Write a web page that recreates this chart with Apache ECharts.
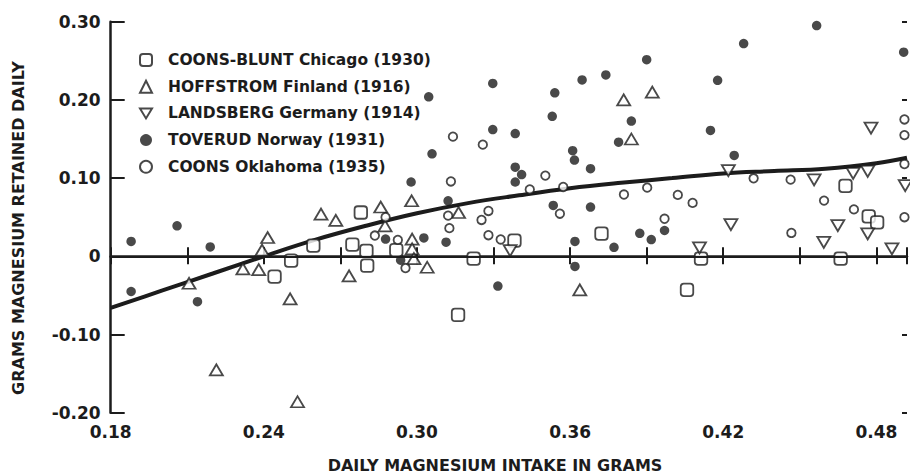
<!DOCTYPE html>
<html>
<head>
<meta charset="utf-8">
<script src="https://cdn.jsdelivr.net/npm/echarts@6/dist/echarts.min.js"></script>
<style>
  html, body { margin: 0; padding: 0; background: #ffffff; }
  #chart { width: 910px; height: 474px; }
</style>
</head>
<body>
<div id="chart"></div>
<script>
// Daily magnesium intake (g) vs. magnesium retained daily (g), by study.
const coonsBluntChicago = [
  [0.2442, -0.026], [0.2507, -0.0055], [0.2594, 0.0137], [0.2747, 0.015],
  [0.278, 0.056], [0.2802, 0.007], [0.2805, -0.012], [0.2919, 0.008],
  [0.3161, -0.075], [0.3222, -0.003], [0.3382, 0.020], [0.3723, 0.029],
  [0.4058, -0.043], [0.4113, -0.003], [0.466, -0.003], [0.4679, 0.090],
  [0.477, 0.051], [0.4803, 0.0435]
];

const hoffstromFinland = [
  [0.2107, -0.0345], [0.2214, -0.1453], [0.2318, -0.016], [0.238, -0.017],
  [0.2393, 0.008], [0.2415, 0.024], [0.2503, -0.0545], [0.2532, -0.186],
  [0.2624, 0.054], [0.2682, 0.046], [0.2734, -0.025], [0.2858, 0.063],
  [0.2875, 0.039], [0.2979, 0.071], [0.2981, 0.022], [0.2981, 0.0095],
  [0.2988, -0.003], [0.304, -0.014], [0.3163, 0.056], [0.3638, -0.043],
  [0.381, 0.200], [0.384, 0.150], [0.3922, 0.210]
];

const landsbergGermany = [
  [0.3365, 0.0073], [0.4107, 0.0107], [0.422, 0.1096], [0.423, 0.0405],
  [0.4556, 0.0977], [0.4594, 0.0179], [0.4649, 0.0392], [0.4709, 0.106],
  [0.4766, 0.1087], [0.4766, 0.0286], [0.4779, 0.164], [0.4861, 0.0095],
  [0.4913, 0.0904]
];

const toverudNorway = [
  [0.188, 0.019], [0.188, -0.045], [0.206, 0.039], [0.219, 0.012],
  [0.214, -0.058], [0.2877, 0.022], [0.2936, -0.005], [0.2977, 0.095],
  [0.3027, 0.0235], [0.3046, 0.204], [0.3059, 0.131], [0.3114, 0.018],
  [0.3122, 0.071], [0.3297, 0.221], [0.3297, 0.162], [0.3317, -0.038],
  [0.3385, 0.157], [0.3385, 0.114], [0.341, 0.1045], [0.3385, 0.095],
  [0.353, 0.179], [0.354, 0.209], [0.3534, 0.065], [0.361, 0.135],
  [0.3617, 0.123], [0.3619, 0.019], [0.3619, -0.013], [0.3647, 0.2256],
  [0.368, 0.112], [0.368, 0.063], [0.374, 0.232], [0.3772, 0.0115],
  [0.379, 0.146], [0.384, 0.173], [0.3873, 0.0294], [0.390, 0.2515],
  [0.3918, 0.0214], [0.397, 0.033], [0.415, 0.161], [0.4178, 0.225],
  [0.4243, 0.129], [0.428, 0.272], [0.4566, 0.295], [0.4907, 0.261]
];

const coonsOklahoma = [
  [0.2835, 0.0265], [0.2877, 0.050], [0.2925, 0.021], [0.2955, -0.015],
  [0.3122, 0.052], [0.3127, 0.036], [0.3133, 0.0957], [0.3141, 0.153],
  [0.3253, 0.0465], [0.3258, 0.1428], [0.328, 0.058], [0.328, 0.027],
  [0.3328, 0.0215], [0.3442, 0.0855], [0.3503, 0.1032], [0.356, 0.0545],
  [0.3573, 0.0887], [0.3811, 0.079], [0.3902, 0.0878], [0.397, 0.048],
  [0.4022, 0.0785], [0.408, 0.0683], [0.4319, 0.0997], [0.4464, 0.098],
  [0.4467, 0.0299], [0.4595, 0.0712], [0.4712, 0.060], [0.491, 0.175],
  [0.491, 0.155], [0.491, 0.118], [0.491, 0.050]
];

// Fitted retention curve
const fittedCurve = [
  [0.18, -0.066], [0.20, -0.044], [0.22, -0.022], [0.24, 0.000],
  [0.26, 0.021], [0.28, 0.039], [0.30, 0.055], [0.32, 0.068],
  [0.34, 0.078], [0.36, 0.087], [0.38, 0.094], [0.40, 0.100],
  [0.42, 0.106], [0.44, 0.109], [0.46, 0.112], [0.48, 0.119],
  [0.492, 0.126]
];

const xLabelValues = [0.18, 0.24, 0.30, 0.36, 0.42, 0.48];
const yLabelValues = [-0.2, -0.1, 0, 0.1, 0.2, 0.3];

const seriesNames = [
  'COONS-BLUNT Chicago (1930)',
  'HOFFSTROM Finland (1916)',
  'LANDSBERG Germany (1914)',
  'TOVERUD Norway (1931)',
  'COONS Oklahoma (1935)'
];

const INK = '#1c1c1c';
const FONT = 'DejaVu Sans';

const X_MIN = 0.18, X_MAX = 0.492;

function fmtY(v) {
  if (Math.abs(v) < 1e-9) return '0';
  return v.toFixed(2);
}
function xLabel(v) {
  for (const t of xLabelValues) if (Math.abs(v - t) < 1e-6) return t.toFixed(2);
  return '';
}
function yLabel(v) {
  for (const t of yLabelValues) if (Math.abs(v - t) < 1e-6) return fmtY(t);
  return '';
}

const hollow = { color: '#ffffff', borderColor: INK, borderWidth: 1.8 };
const solid = { color: INK, borderColor: INK, borderWidth: 0 };

const chart = echarts.init(document.getElementById('chart'), null, { renderer: 'svg' });

const xCommon = {
  type: 'value', min: X_MIN, max: X_MAX, interval: 0.03,
  splitLine: { show: false }
};
const yCommon = {
  type: 'value', min: -0.2, max: 0.3, interval: 0.1,
  splitLine: { show: false }
};

chart.setOption({
  backgroundColor: '#ffffff',
  animation: false,
  grid: { left: 110.7, right: 0, top: 21.7, bottom: 61.3, containLabel: false },
  textStyle: { fontFamily: FONT },
  legend: {
    orient: 'vertical',
    left: 134, top: 46,
    itemWidth: 12, itemHeight: 12, itemGap: 8.7,
    selectedMode: false,
    data: seriesNames,
    textStyle: {
      color: INK, fontFamily: FONT, fontWeight: 'bold', fontSize: 15.5,
      lineHeight: 18, padding: [0, 0, 0, 11]
    }
  },
  xAxis: [
    Object.assign({}, xCommon, {
      position: 'bottom',
      axisLine: { show: true, lineStyle: { color: INK, width: 2.5 } },
      axisTick: { show: true, inside: true, length: 9, lineStyle: { color: INK, width: 2 } },
      axisLabel: { show: true, formatter: xLabel, color: INK, fontFamily: FONT, fontWeight: 'bold', fontSize: 17, margin: 11 }
    }),
    Object.assign({}, xCommon, {
      position: 'top',
      axisLine: { show: true, lineStyle: { color: INK, width: 2 } },
      axisTick: { show: true, inside: true, length: 8, lineStyle: { color: INK, width: 2 } },
      axisLabel: { show: false }
    })
  ],
  yAxis: [
    Object.assign({}, yCommon, {
      position: 'left',
      axisLine: { show: true, lineStyle: { color: INK, width: 2.5 } },
      axisTick: { show: true, inside: true, length: 14, lineStyle: { color: INK, width: 2 } },
      axisLabel: { show: true, formatter: yLabel, color: INK, fontFamily: FONT, fontWeight: 'bold', fontSize: 17, margin: 10 }
    }),
    Object.assign({}, yCommon, {
      position: 'right',
      axisLine: { show: false },
      axisTick: { show: true, inside: true, length: 5, lineStyle: { color: INK, width: 2 } },
      axisLabel: { show: false }
    })
  ],
  graphic: [
    {
      type: 'text', x: 18, y: 228, rotation: Math.PI / 2,
      style: {
        text: 'GRAMS MAGNESIUM RETAINED DAILY',
        fill: INK, font: 'bold 16px "DejaVu Sans"',
        align: 'center', verticalAlign: 'middle'
      }
    },
    {
      type: 'text', x: 495, y: 465,
      style: {
        text: 'DAILY MAGNESIUM INTAKE IN GRAMS',
        fill: INK, font: 'bold 16px "DejaVu Sans"',
        align: 'center', verticalAlign: 'middle'
      }
    }
  ],
  series: [
    {
      name: 'fit', type: 'line', data: fittedCurve, smooth: 0.4,
      showSymbol: false, silent: true, z: 1,
      lineStyle: { color: INK, width: 4 },
      markLine: {
        silent: true, symbol: 'none', label: { show: false },
        lineStyle: { color: INK, width: 2, type: 'solid' },
        data: [{ yAxis: 0 }]
      }
    },
    {
      name: seriesNames[0], type: 'scatter', data: coonsBluntChicago, z: 3,
      symbol: 'roundRect', symbolSize: 12.5, itemStyle: hollow
    },
    {
      name: seriesNames[1], type: 'scatter', data: hoffstromFinland, z: 3,
      symbol: 'triangle', symbolSize: [13, 11], itemStyle: hollow
    },
    {
      name: seriesNames[2], type: 'scatter', data: landsbergGermany, z: 3,
      symbol: 'path://M0,0 L12,0 L6,10 Z', symbolSize: [13, 11], itemStyle: hollow
    },
    {
      name: seriesNames[3], type: 'scatter', data: toverudNorway, z: 4,
      symbol: 'circle', symbolSize: 9.5, itemStyle: solid
    },
    {
      name: seriesNames[4], type: 'scatter', data: coonsOklahoma, z: 3,
      symbol: 'circle', symbolSize: 8.5, itemStyle: hollow
    }
  ]
});
</script>
</body>
</html>
